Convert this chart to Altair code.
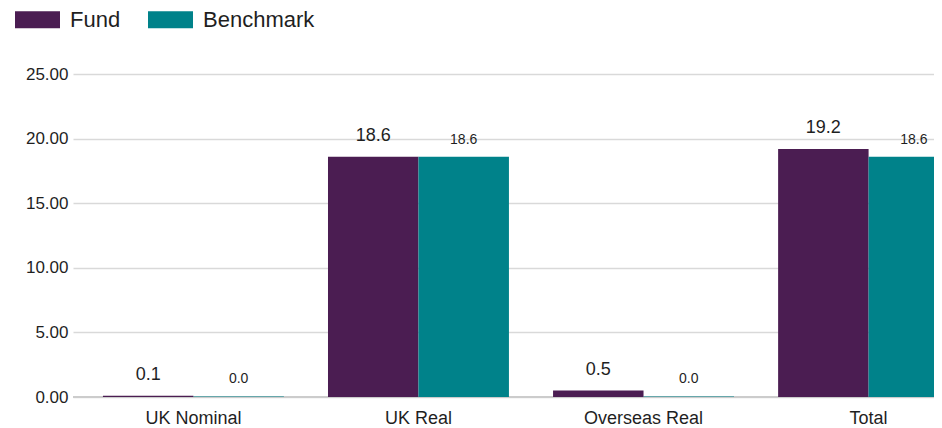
import altair as alt
import pandas as pd

categories = ["UK Nominal", "UK Real", "Overseas Real", "Total"]
series = ["Fund", "Benchmark"]
fund_values = [0.1, 18.6, 0.5, 19.2]
benchmark_values = [0.04, 18.6, 0.04, 18.6]
y_ticks = [0, 5, 10, 15, 20, 25]
colors = ["#4b1d52", "#00828a"]

rows = []
for c, f, b in zip(categories, fund_values, benchmark_values):
    rows.append({"category": c, "series": "Fund", "value": f})
    rows.append({"category": c, "series": "Benchmark", "value": b})
df = pd.DataFrame(rows)

FONT = "Liberation Sans"
TXT = "#1f1f1f"

x = alt.X(
    "category:N", sort=categories, title=None,
    scale=alt.Scale(range=[0, 916], paddingInner=0.196, paddingOuter=0.133),
    axis=alt.Axis(labelAngle=0, labelFontSize=18, labelPadding=12, ticks=False,
                  domain=False, labelColor=TXT, labelFont=FONT, grid=False),
)
xo = alt.XOffset("series:N", sort=series, scale=alt.Scale(paddingInner=0, paddingOuter=0))
y = alt.Y(
    "value:Q", title=None,
    scale=alt.Scale(domain=[0, 25], nice=False, zero=True),
    axis=alt.Axis(values=y_ticks, format=".2f", labelFontSize=17, labelColor=TXT,
                  labelFont=FONT, ticks=False, domain=False, labelPadding=5,
                  grid=True, gridColor="#d9d9d9", gridWidth=1.5),
)
color = alt.Color(
    "series:N", sort=series,
    scale=alt.Scale(domain=series, range=colors),
    legend=alt.Legend(
        title=None, orient="none", legendX=-58, legendY=-77, direction="horizontal",
        symbolType="M-1,-0.378L1,-0.378L1,0.378L-1,0.378Z", symbolSize=2025,
        symbolStrokeWidth=0, symbolOpacity=1, labelFontSize=22, labelOffset=10,
        columnPadding=27, labelColor=TXT, labelFont=FONT,
    ),
)

base = alt.Chart(df)

baseline = alt.Chart(df).mark_rule(color="#cccccc", strokeWidth=2).encode(y=alt.datum(0))

bars = base.mark_bar().encode(x=x, xOffset=xo, y=y, color=color)

fund_text = base.transform_filter(alt.datum.series == "Fund").mark_text(
    fontSize=18, dy=-16, baseline="alphabetic", font=FONT, color=TXT
).encode(x=x, xOffset=xo, y=y, text=alt.Text("value:Q", format=".1f"))

bench_text = base.transform_filter(alt.datum.series == "Benchmark").mark_text(
    fontSize=14, dy=-13, baseline="alphabetic", font=FONT, color=TXT
).encode(x=x, xOffset=xo, y=y, text=alt.Text("value:Q", format=".1f"))

chart = alt.layer(baseline, bars, fund_text, bench_text).properties(
    width=861, height=323,
    autosize=alt.AutoSizeParams(type="none"),
    padding={"left": 65, "top": 66, "right": 0, "bottom": 31},
).configure_view(stroke=None)

chart.save("out.html", embed_options={"renderer": "svg", "actions": False})
